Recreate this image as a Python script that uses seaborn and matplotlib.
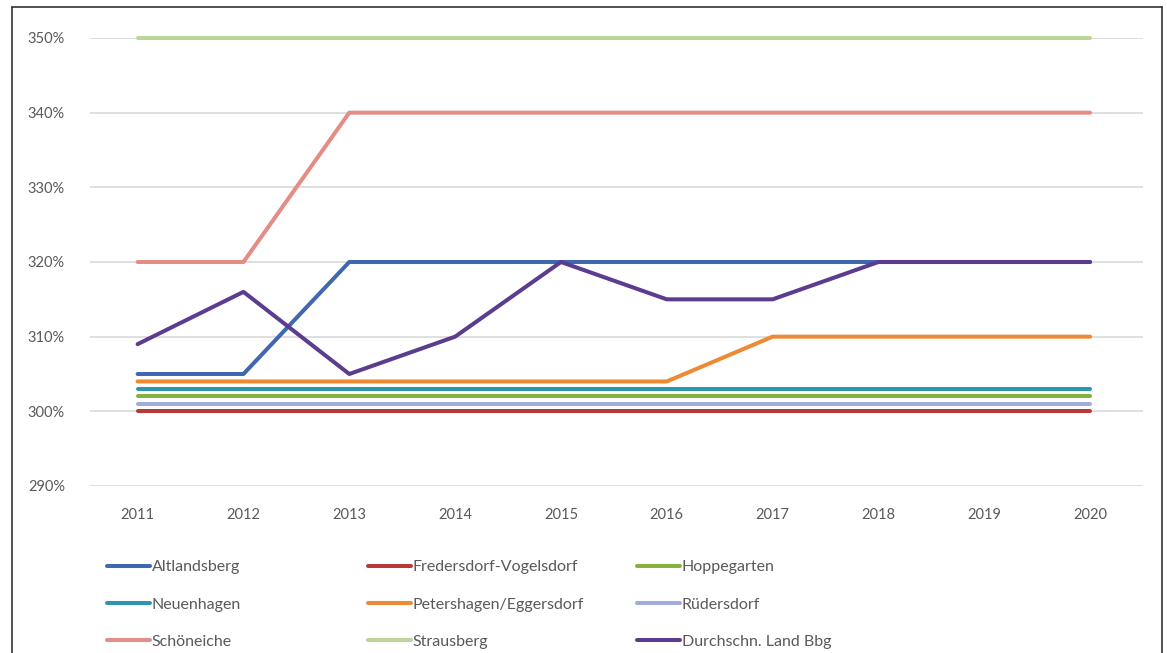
import pandas as pd
import matplotlib
matplotlib.use("Agg")
import matplotlib.pyplot as plt
import seaborn as sns
from matplotlib.lines import Line2D

# Hebesaetze Gewerbesteuer (%), 2011-2020
years = [2011, 2012, 2013, 2014, 2015, 2016, 2017, 2018, 2019, 2020]

altlandsberg = [305, 305, 320, 320, 320, 320, 320, 320, 320, 320]
fredersdorf = [300, 300, 300, 300, 300, 300, 300, 300, 300, 300]
hoppegarten = [302, 302, 302, 302, 302, 302, 302, 302, 302, 302]
neuenhagen = [303, 303, 303, 303, 303, 303, 303, 303, 303, 303]
petershagen = [304, 304, 304, 304, 304, 304, 310, 310, 310, 310]
ruedersdorf = [301, 301, 301, 301, 301, 301, 301, 301, 301, 301]
schoeneiche = [320, 320, 340, 340, 340, 340, 340, 340, 340, 340]
strausberg = [350, 350, 350, 350, 350, 350, 350, 350, 350, 350]
durchschnitt = [309, 316, 305, 310, 320, 315, 315, 320, 320, 320]

names = ["Altlandsberg", "Fredersdorf-Vogelsdorf", "Hoppegarten",
         "Neuenhagen", "Petershagen/Eggersdorf", "Rüdersdorf",
         "Schöneiche", "Strausberg", "Durchschn. Land Bbg"]
series = [altlandsberg, fredersdorf, hoppegarten, neuenhagen, petershagen,
          ruedersdorf, schoeneiche, strausberg, durchschnitt]
colors = ["#3F68B0", "#B8393A", "#86B23E", "#2F95AE", "#EE8A34",
          "#9FACDC", "#E58C86", "#BDD59A", "#5B3C8E"]

rows = []
for name, vals in zip(names, series):
    for y, v in zip(years, vals):
        rows.append({"Jahr": y, "Wert": v, "Gemeinde": name})
df = pd.DataFrame(rows)
palette = dict(zip(names, colors))

sns.set_style("white")
plt.rcParams['font.family'] = ['Lato', 'DejaVu Sans']

fig = plt.figure(figsize=(11.67, 6.53), dpi=100)
ax = fig.add_axes([90 / 1167, 1 - 486 / 653, 1053 / 1167, 448 / 653])

sns.lineplot(ax=ax, data=df, x="Jahr", y="Wert", hue="Gemeinde",
             hue_order=names, palette=palette, linewidth=2.9, legend=False)
for ln in ax.lines:
    ln.set_clip_on(False)

ax.set_xlim(2010.55, 2020.5)
ax.set_ylim(290, 350)
ax.set_yticks(range(290, 351, 10))
ax.set_yticklabels([f"{t}%" for t in range(290, 351, 10)])
ax.set_xticks(years)
ax.set_xticklabels([str(y) for y in years])
ax.yaxis.grid(True, color="#D9D9D9", linewidth=1.2)
ax.set_axisbelow(True)
for s in ax.spines.values():
    s.set_visible(False)
ax.tick_params(axis="both", length=0, labelsize=10.5, colors="#595959")
ax.tick_params(axis="y", pad=18)
ax.tick_params(axis="x", pad=16)
ax.set_xlabel("")
ax.set_ylabel("")

# legend: three columns placed like the original
columns = [[0, 3, 6], [1, 4, 7], [2, 5, 8]]
col_x = [107, 368, 637]
for idx, x0 in zip(columns, col_x):
    handles = [Line2D([0], [0], color=colors[i], linewidth=2.9) for i in idx]
    labels = [names[i] for i in idx]
    leg = fig.legend(handles, labels, loc="upper left",
                     bbox_to_anchor=(x0 / 1167, 1 - 560 / 653),
                     frameon=False, fontsize=11.5, handlelength=2.7,
                     handletextpad=0.1, labelspacing=1.45,
                     borderpad=0, borderaxespad=0)
    for t in leg.get_texts():
        t.set_color("#595959")

# outer frame
frame_kw = dict(color="#333333", linewidth=1.2, transform=fig.transFigure)
fig.add_artist(Line2D([12 / 1167, 12 / 1167], [0, 1 - 7 / 653], **frame_kw))
fig.add_artist(Line2D([12 / 1167, 1162 / 1167], [1 - 7 / 653, 1 - 7 / 653], **frame_kw))
fig.add_artist(Line2D([1162 / 1167, 1162 / 1167], [0, 1 - 7 / 653], **frame_kw))

fig.savefig("out.png", dpi=100)
